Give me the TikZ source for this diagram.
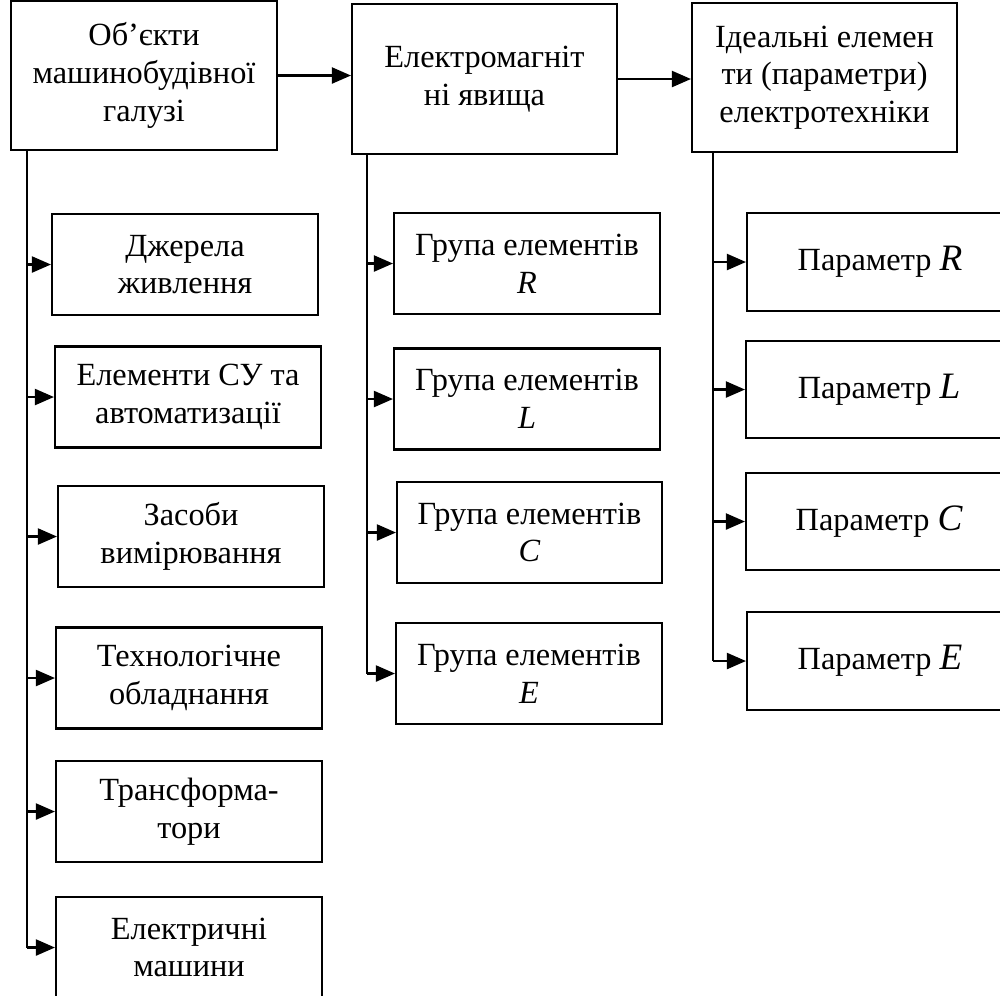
\documentclass[tikz,border=0pt]{standalone}
\usepackage{fontspec}
\setmainfont{Liberation Serif}
\usetikzlibrary{arrows.meta}
\tikzstyle{block}=[draw, rectangle, line width=0.6pt, minimum width=2.66cm, minimum height=1.01cm, align=center, inner sep=0pt, font=\fontsize{9.2}{10.7}\selectfont]
\tikzstyle{arrow}=[draw=black, line width=0.6pt, -{Triangle[length=1.9mm, width=1.6mm]}]
\tikzstyle{trunk}=[draw=black, line width=0.6pt]
\newcommand{\bigit}[1]{{\fontsize{10.6}{10.7}\selectfont\itshape #1}}

\begin{document}
\begin{tikzpicture}
		   \useasboundingbox (0,0) rectangle (10,-9.95);
		   % top row
		   \begin{scope}
			   \node (obj) at (1.44, -0.755)[block, minimum height=1.49cm] {Об’єкти\\машинобудівної\\галузі};
			   \node (emf) at (4.845, -0.79)[block, minimum width=2.65cm, minimum height=1.50cm] {Електромагніт\\ні явища};
			   \node (ideal) at (8.245, -0.775)[block, minimum width=2.65cm, minimum height=1.49cm] {Ідеальні елемен\\ти (параметри)\\електротехніки};
		   \end{scope}
		   % left column
		   \begin{scope}
			   \node (src) at (1.85, -2.645)[block] {Джерела\\живлення};
			   \node (ctrl) at (1.88, -3.97)[block] {Елементи СУ та\\автоматизації};
			   \node (meas) at (1.91, -5.365)[block] {Засоби\\вимірювання};
			   \node (tech) at (1.89, -6.78)[block] {Технологічне\\обладнання};
			   \node (trans) at (1.89, -8.115)[block] {Трансформа-\\тори};
			   \node (mach) at (1.89, -9.475)[block] {Електричні\\машини};
		   \end{scope}
		   % middle column
		   \begin{scope}
			   \node (gR) at (5.27, -2.635)[block] {Група елементів\\\textit{R}};
			   \node (gL) at (5.27, -3.99)[block] {Група елементів\\\textit{L}};
			   \node (gC) at (5.295, -5.325)[block, minimum width=2.65cm] {Група елементів\\\textit{C}};
			   \node (gE) at (5.29, -6.735)[block] {Група елементів\\\textit{E}};
		   \end{scope}
		   % right column
		   \begin{scope}
			   \node (pR) at (8.80, -2.62)[block, minimum height=0.98cm] {Параметр \bigit{R}};
			   \node (pL) at (8.79, -3.895)[block, minimum height=0.97cm] {Параметр \bigit{L}};
			   \node (pC) at (8.79, -5.215)[block, minimum height=0.97cm] {Параметр \bigit{C}};
			   \node (pE) at (8.80, -6.61)[block, minimum height=0.98cm] {Параметр \bigit{E}};
		   \end{scope}
		   \coordinate (t1) at (0.27, -1.50);
		   \coordinate (t2) at (3.67, -1.54);
		   \coordinate (t3) at (7.13, -1.52);
		   \begin{scope}
			   \path [arrow] (obj.east) -- (obj.east -| emf.west);
			   \path [arrow] (emf.east) -- (emf.east -| ideal.west);
			   \path [trunk] (t1) -- (t1 |- mach.west);
			   \path [arrow] (t1 |- src.west) -- (src.west);
			   \path [arrow] (t1 |- ctrl.west) -- (ctrl.west);
			   \path [arrow] (t1 |- meas.west) -- (meas.west);
			   \path [arrow] (t1 |- tech.west) -- (tech.west);
			   \path [arrow] (t1 |- trans.west) -- (trans.west);
			   \path [arrow] (t1 |- mach.west) -- (mach.west);
			   \path [trunk] (t2) -- (t2 |- gE.west);
			   \path [arrow] (t2 |- gR.west) -- (gR.west);
			   \path [arrow] (t2 |- gL.west) -- (gL.west);
			   \path [arrow] (t2 |- gC.west) -- (gC.west);
			   \path [arrow] (t2 |- gE.west) -- (gE.west);
			   \path [trunk] (t3) -- (t3 |- pE.west);
			   \path [arrow] (t3 |- pR.west) -- (pR.west);
			   \path [arrow] (t3 |- pL.west) -- (pL.west);
			   \path [arrow] (t3 |- pC.west) -- (pC.west);
			   \path [arrow] (t3 |- pE.west) -- (pE.west);
		   \end{scope}
\end{tikzpicture}
\end{document}
